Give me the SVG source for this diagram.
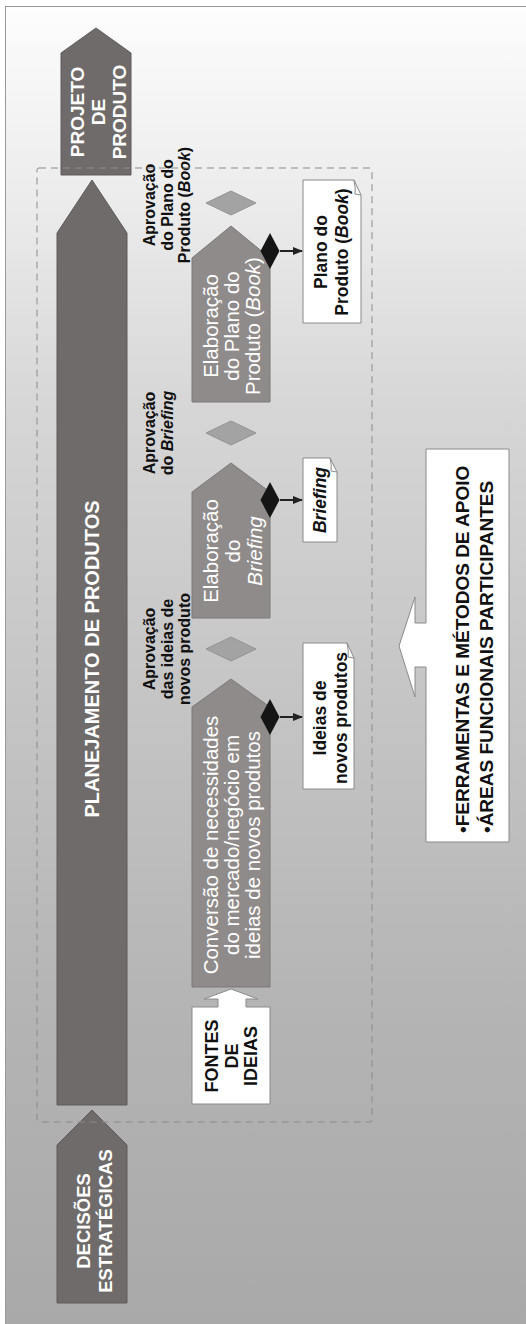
<svg xmlns="http://www.w3.org/2000/svg" width="526" height="1324" viewBox="0 0 526 1324">
<defs>
<linearGradient id="bg" x1="0" y1="0" x2="0" y2="1">
<stop offset="0" stop-color="#fdfdfd"/>
<stop offset="0.15" stop-color="#ebebeb"/>
<stop offset="0.3" stop-color="#d6d6d6"/>
<stop offset="0.5" stop-color="#c6c6c6"/>
<stop offset="0.75" stop-color="#b4b4b4"/>
<stop offset="1" stop-color="#a8a8a8"/>
</linearGradient>
<marker id="ah" viewBox="0 0 10 10" refX="9" refY="5" markerWidth="5" markerHeight="5" orient="auto" markerUnits="strokeWidth">
<path d="M0,1 L10,5 L0,9 Z" fill="#222"/>
</marker>
<style>
text{font-family:"Liberation Sans",Arial,Helvetica,sans-serif;}
.dark{fill:#6f6b6a;stroke:#5f5b5a;stroke-width:1;}
.proc{fill:#8f8b8a;stroke:#7c7978;stroke-width:1;}
.gate{fill:#a3a3a3;stroke:#939393;stroke-width:1;}
.out{fill:#151515;}
.doc{fill:#ffffff;stroke:#8a8a8a;stroke-width:1;}
.wb{fill:#ffffff;font-weight:bold;}
.wr{fill:#ffffff;font-size:20.5px;}
.kb{fill:#111111;font-weight:bold;}
.lbl{fill:#111111;font-weight:bold;font-size:16px;}
.conn{stroke:#222;stroke-width:2;fill:none;}
</style>
</defs>

<rect x="5.5" y="6.5" width="540" height="1340" fill="url(#bg)" stroke="#9a9a9a" stroke-width="1"/>

<g id="projeto-de-produto">
<path class="dark" d="M61,175 V53 L96,28 L131,53 V175 Z"/>
<text class="wb" font-size="19" text-anchor="middle" transform="translate(0,112) rotate(-90)"><tspan x="0" y="84">PROJETO</tspan><tspan x="0" y="105">DE</tspan><tspan x="0" y="126">PRODUTO</tspan></text>
</g>

<g id="planejamento">
<path class="dark" d="M57,1105 V233 L92,180 L127,233 V1105 Z"/>
<text class="wb" font-size="20" text-anchor="middle" transform="translate(0,659) rotate(-90)"><tspan x="0" y="99">PLANEJAMENTO DE PRODUTOS</tspan></text>
</g>

<g id="decisoes">
<path class="dark" d="M57,1303 V1145 L92,1110 L127,1145 V1303 Z"/>
<text class="wb" font-size="18.5" text-anchor="middle" transform="translate(0,1221) rotate(-90)"><tspan x="0" y="90">DECISÕES</tspan><tspan x="0" y="112">ESTRATÉGICAS</tspan></text>
</g>

<g id="fontes-de-ideias">
<path d="M192,1104 V1007 H218 V999 H204 L231,989 L258,999 H246 V1007 H270 V1104 Z" fill="#ffffff" stroke="#8a8a8a" stroke-width="1"/>
<text class="kb" font-size="18" text-anchor="middle" transform="translate(0,1056) rotate(-90)"><tspan x="0" y="218">FONTES</tspan><tspan x="0" y="238">DE</tspan><tspan x="0" y="257">IDEIAS</tspan></text>
</g>

<g id="conversao">
<path class="proc" d="M192,987 V707 L231,679 L270,707 V987 Z"/>
<text class="wr" text-anchor="middle" transform="translate(0,845) rotate(-90)"><tspan x="0" y="218">Conversão de necessidades</tspan><tspan x="0" y="239">do mercado/negócio em</tspan><tspan x="0" y="260">ideias de novos produtos</tspan></text>
</g>

<g id="elaboracao-briefing">
<path class="proc" d="M192,618 V492 L231,463 L270,492 V618 Z"/>
<text class="wr" text-anchor="middle" transform="translate(0,551) rotate(-90)"><tspan x="0" y="218">Elaboração</tspan><tspan x="0" y="240">do</tspan><tspan x="0" y="262" font-style="italic">Briefing</tspan></text>
</g>

<g id="elaboracao-plano">
<path class="proc" d="M192,402 V258 L231,226 L270,258 V402 Z"/>
<text class="wr" text-anchor="middle" transform="translate(0,326) rotate(-90)"><tspan x="0" y="218">Elaboração</tspan><tspan x="0" y="239">do Plano do</tspan><tspan x="0" y="260">Produto (<tspan font-style="italic">Book</tspan>)</tspan></text>
</g>

<g id="gate-ideias">
<path class="gate" d="M206,649 L231,637 L256,649 L231,661 Z"/>
<text class="lbl" text-anchor="middle" transform="translate(0,649) rotate(-90)"><tspan x="0" y="155">Aprovação</tspan><tspan x="0" y="172.5">das ideias de</tspan><tspan x="0" y="190">novos produto</tspan></text>
</g>

<g id="gate-briefing">
<path class="gate" d="M206,433 L231,421 L256,433 L231,445 Z"/>
<text class="lbl" text-anchor="middle" transform="translate(0,433) rotate(-90)"><tspan x="0" y="155">Aprovação</tspan><tspan x="0" y="172.5">do <tspan font-style="italic">Briefing</tspan></tspan></text>
</g>

<g id="gate-plano">
<path class="gate" d="M206,203 L231,191 L256,203 L231,215 Z"/>
<text class="lbl" text-anchor="middle" transform="translate(0,205) rotate(-90)"><tspan x="0" y="155">Aprovação</tspan><tspan x="0" y="172.5">do Plano do</tspan><tspan x="0" y="190">Produto (<tspan font-style="italic">Book</tspan>)</tspan></text>
</g>

<g id="out-ideias">
<path class="out" d="M260.5,717 L270,699 L279.5,717 L270,735 Z"/>
</g>
<g id="out-briefing">
<path class="out" d="M260.5,500 L270,482 L279.5,500 L270,518 Z"/>
</g>
<g id="out-plano">
<path class="out" d="M260.5,251 L270,233 L279.5,251 L270,269 Z"/>
</g>

<g id="doc-ideias">
<path class="doc" d="M303,643 H347 L354,658 V789 H303 Z"/>
<path d="M347,643 Q349,652 348,657 L354,658" fill="none" stroke="#8a8a8a" stroke-width="1"/>
<text class="kb" font-size="17.5" text-anchor="middle" transform="translate(0,718) rotate(-90)"><tspan x="0" y="326">Ideias de</tspan><tspan x="0" y="347">novos produtos</tspan></text>
</g>

<g id="doc-briefing">
<path class="doc" d="M303,458 H330 L337,472 V542 H303 Z"/>
<path d="M330,458 Q332,466 331,471 L337,472" fill="none" stroke="#8a8a8a" stroke-width="1"/>
<text class="kb" font-size="17.5" font-style="italic" text-anchor="middle" transform="translate(0,500) rotate(-90)"><tspan x="0" y="326">Briefing</tspan></text>
</g>

<g id="doc-plano">
<path class="doc" d="M303,180 H354 L361,195 V323 H303 Z"/>
<path d="M354,180 Q356,189 355,194 L361,195" fill="none" stroke="#8a8a8a" stroke-width="1"/>
<text class="kb" font-size="17.5" text-anchor="middle" transform="translate(0,252) rotate(-90)"><tspan x="0" y="327">Plano do</tspan><tspan x="0" y="348">Produto (<tspan font-style="italic">Book</tspan>)</tspan></text>
</g>

<g id="ferramentas">
<path d="M426,449 H509 V842 H426 V667 H415 V697 L399,646 L415,597 V623 H426 Z" fill="#ffffff" stroke="#8a8a8a" stroke-width="1"/>
<text class="kb" font-size="19" text-anchor="start" transform="translate(0,833) rotate(-90)"><tspan x="0" y="469">•FERRAMENTAS E MÉTODOS DE APOIO</tspan><tspan x="0" y="493">•ÁREAS FUNCIONAIS PARTICIPANTES</tspan></text>
</g>

<g id="connectors">
<line class="conn" x1="280" y1="717" x2="302" y2="717" marker-end="url(#ah)"/>
<line class="conn" x1="280" y1="500" x2="302" y2="500" marker-end="url(#ah)"/>
<line class="conn" x1="280" y1="251" x2="302" y2="251" marker-end="url(#ah)"/>
</g>

<g id="boundary">
<rect x="37" y="168" width="335" height="954" rx="2" fill="none" stroke="#8c8c8c" stroke-width="1" stroke-dasharray="7,5"/>
</g>
</svg>
